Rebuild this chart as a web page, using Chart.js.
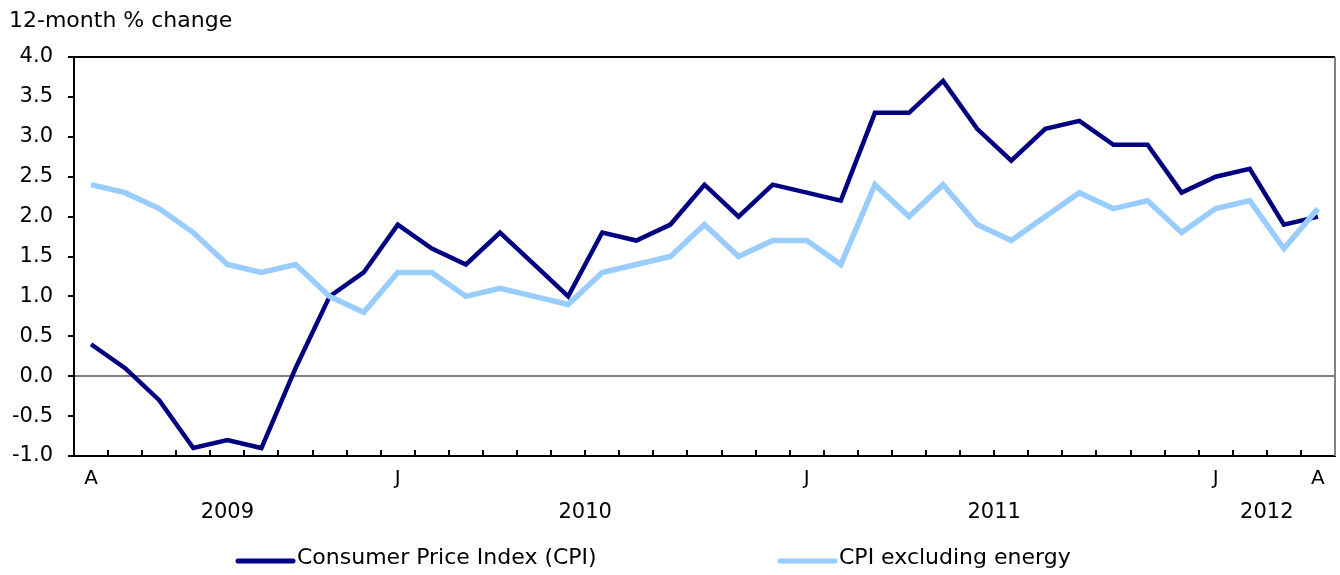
<!DOCTYPE html>
<html lang="en">
  <head>
    <meta charset="UTF-8" />
    <title>CPI 12-month % change</title>
    <script src="https://cdn.jsdelivr.net/npm/chart.js"></script>
    <style>
      html, body { margin: 0; padding: 0; background: #fff; }
      #wrap { width: 1340px; height: 575px; position: relative; }
    </style>
  </head>
  <body>
    <div id="wrap"><canvas id="cpiChart"></canvas></div>

    <script>
      // April 2009 to April 2012
      const months = [
        "A","M","J","J","A","S","O","N","D",
        "J","F","M","A","M","J","J","A","S","O","N","D",
        "J","F","M","A","M","J","J","A","S","O","N","D",
        "J","F","M","A"
      ];
      const years = [
        2009,2009,2009,2009,2009,2009,2009,2009,2009,
        2010,2010,2010,2010,2010,2010,2010,2010,2010,2010,2010,2010,
        2011,2011,2011,2011,2011,2011,2011,2011,2011,2011,2011,2011,
        2012,2012,2012,2012
      ];
      const shownTicks = [0, 9, 21, 33, 36];

      const cpi = [
        0.4, 0.1, -0.3, -0.9, -0.8, -0.9, 0.1, 1.0, 1.3,
        1.9, 1.6, 1.4, 1.8, 1.4, 1.0, 1.8, 1.7, 1.9, 2.4, 2.0, 2.4,
        2.3, 2.2, 3.3, 3.3, 3.7, 3.1, 2.7, 3.1, 3.2, 2.9, 2.9, 2.3,
        2.5, 2.6, 1.9, 2.0
      ];
      const cpiExEnergy = [
        2.4, 2.3, 2.1, 1.8, 1.4, 1.3, 1.4, 1.0, 0.8,
        1.3, 1.3, 1.0, 1.1, 1.0, 0.9, 1.3, 1.4, 1.5, 1.9, 1.5, 1.7,
        1.7, 1.4, 2.4, 2.0, 2.4, 1.9, 1.7, 2.0, 2.3, 2.1, 2.2, 1.8,
        2.1, 2.2, 1.6, 2.1
      ];

      const seriesNames = ["Consumer Price Index (CPI)", "CPI excluding energy"];
      const darkBlue = "#000080";
      const lightBlue = "#99ccff";
      const mainFont = "'DejaVu Sans', Verdana, sans-serif";

      // extra drawing: frame, inner x ticks, year row, legend, axis title
      const extras = {
        id: "extras",
        afterDraw(chart) {
          const ctx = chart.ctx;
          const a = chart.chartArea;
          const x = chart.scales.x;
          ctx.save();

          // top and right frame
          ctx.lineWidth = 2;
          ctx.strokeStyle = "#000";
          ctx.beginPath();
          ctx.moveTo(a.left, a.top);
          ctx.lineTo(a.right, a.top);
          ctx.stroke();
          ctx.strokeStyle = "#808080";
          ctx.beginPath();
          ctx.moveTo(a.right, a.top);
          ctx.lineTo(a.right, a.bottom);
          ctx.stroke();

          // small ticks pointing up between months
          ctx.strokeStyle = "#000";
          ctx.lineWidth = 2;
          for (let i = 0; i < months.length - 1; i++) {
            const px = Math.round((x.getPixelForValue(i) + x.getPixelForValue(i + 1)) / 2);
            ctx.beginPath();
            ctx.moveTo(px, a.bottom);
            ctx.lineTo(px, a.bottom - 6);
            ctx.stroke();
          }

          // year labels centred under each year's months
          ctx.fillStyle = "#000";
          ctx.font = "21px " + mainFont;
          ctx.textAlign = "center";
          ctx.textBaseline = "middle";
          const uniq = [...new Set(years)];
          uniq.forEach((yr) => {
            const first = years.indexOf(yr);
            const last = years.lastIndexOf(yr);
            const cx = (x.getPixelForValue(first) + x.getPixelForValue(last)) / 2;
            ctx.fillText(String(yr), cx, 513);
          });

          // axis title
          ctx.font = "22px " + mainFont;
          ctx.textAlign = "left";
          ctx.textBaseline = "alphabetic";
          ctx.fillText("12-month % change", 9, 27);

          // legend
          const items = [
            { x: 238, color: darkBlue, text: seriesNames[0] },
            { x: 780, color: lightBlue, text: seriesNames[1] }
          ];
          ctx.font = "22px " + mainFont;
          ctx.lineCap = "round";
          items.forEach((it) => {
            ctx.strokeStyle = it.color;
            ctx.lineWidth = 5;
            ctx.beginPath();
            ctx.moveTo(it.x, 561);
            ctx.lineTo(it.x + 55, 561);
            ctx.stroke();
            ctx.fillText(it.text, it.x + 59, 564);
          });
          ctx.restore();
        }
      };

      const ctx = document.getElementById("cpiChart").getContext("2d");
      new Chart(ctx, {
        type: "line",
        data: {
          labels: months,
          datasets: [
            {
              label: seriesNames[0],
              data: cpi,
              borderColor: darkBlue,
              backgroundColor: darkBlue,
              borderWidth: 4.5,
              pointRadius: 0,
              tension: 0,
              order: 1
            },
            {
              label: seriesNames[1],
              data: cpiExEnergy,
              borderColor: lightBlue,
              backgroundColor: lightBlue,
              borderWidth: 5.5,
              pointRadius: 0,
              tension: 0,
              order: 0
            }
          ]
        },
        options: {
          responsive: true,
          maintainAspectRatio: false,
          animation: false,
          layout: { padding: { left: 0, top: 57, right: 5, bottom: 0 } },
          plugins: {
            legend: { display: false },
            tooltip: { enabled: false }
          },
          scales: {
            x: {
              offset: true,
              grid: { display: false },
              border: { color: "#000", width: 2 },
              ticks: {
                autoSkip: false,
                maxRotation: 0,
                padding: 3,
                color: "#000",
                font: { family: mainFont, size: 20 },
                callback: (v, i) => (shownTicks.includes(i) ? months[i] : "")
              },
              afterFit: (s) => { s.height = 119; }
            },
            y: {
              min: -1,
              max: 4,
              ticks: {
                stepSize: 0.5,
                padding: 15,
                color: "#000",
                font: { family: mainFont, size: 21 },
                callback: (v) => v.toFixed(1)
              },
              grid: {
                drawOnChartArea: true,
                tickLength: 6,
                tickColor: "#000",
                tickWidth: 2,
                lineWidth: 2,
                color: (c) => (c.tick && c.tick.value === 0 ? "#808080" : "rgba(0,0,0,0)")
              },
              border: { color: "#000", width: 2 },
              afterFit: (s) => { s.width = 74; }
            }
          }
        },
        plugins: [extras]
      });
    </script>
  </body>
</html>
